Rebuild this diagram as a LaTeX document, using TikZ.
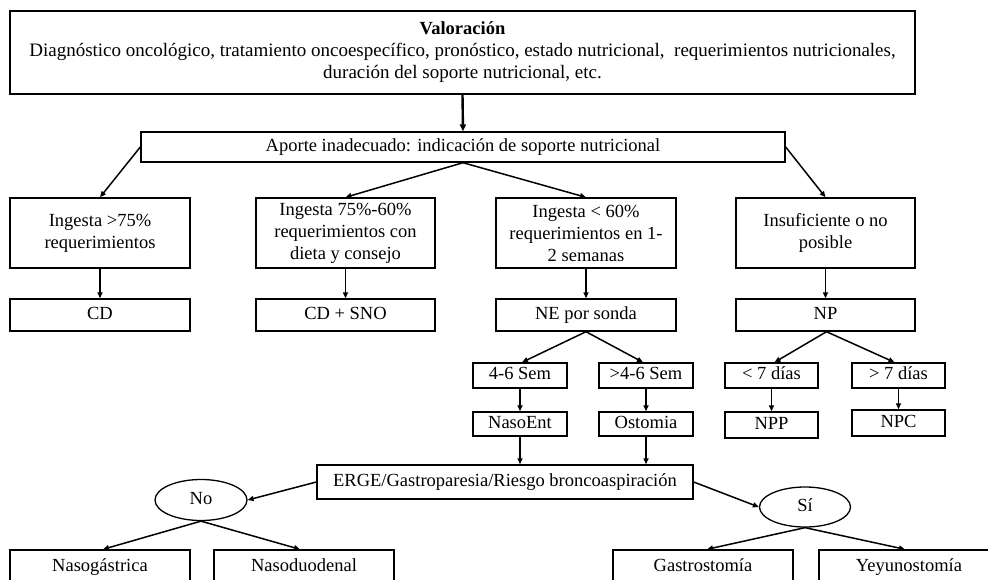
\documentclass[tikz,border=0pt]{standalone}
\usepackage{fontspec}
\setmainfont{Liberation Serif}
\usetikzlibrary{arrows.meta,shapes.geometric}
\begin{document}
\begin{tikzpicture}[x=1pt,y=-1pt,
  bx/.style={draw,line width=1.4pt,inner sep=0pt,align=center,font=\fontsize{18.5}{22}\selectfont,anchor=center},
  one/.style={bx,text height=12.5pt,text depth=4pt},
  el/.style={draw,ellipse,line width=1.3pt,inner sep=0pt,font=\fontsize{18.5}{22}\selectfont,text height=12.5pt,text depth=4pt},
  arr/.style={line width=1.5pt,-{Triangle[length=6pt,width=5pt]}},
  tarr/.style={line width=2.4pt,-{Triangle[length=7pt,width=6pt]}}]
\useasboundingbox[fill=white] (0,0) rectangle (988,579);
% top
\node[bx,minimum width=905pt,minimum height=83pt] (top) at (462.5,52.5)
  {{\fontsize{18.5}{22}\selectfont\textbf{Valoración}}\\{\fontsize{19}{22}\selectfont Diagnóstico oncológico, tratamiento oncoespecífico, pronóstico, estado nutricional,\ \ requerimientos nutricionales,}\\{\fontsize{19}{22}\selectfont duración del soporte nutricional, etc.}};
\node[one,minimum width=644pt,minimum height=30pt] (apo) at (463,147) {Aporte inadecuado: indicación de soporte nutricional};
% level 2
\node[bx,minimum width=180pt,minimum height=70pt] (i1) at (100,233) {Ingesta >75\%\\requerimientos};
\node[bx,minimum width=179pt,minimum height=70pt] (i2) at (345.5,233) {Ingesta 75\%-60\%\\requerimientos con\\dieta y consejo};
\node[bx,minimum width=180pt,minimum height=70pt] (i3) at (586,233) {Ingesta < 60\%\\requerimientos en 1-\\2 semanas};
\node[bx,minimum width=179pt,minimum height=70pt] (i4) at (825.5,233) {Insuficiente o no\\posible};
% level 3
\node[one,minimum width=180pt,minimum height=32pt] (cd) at (100,315) {CD};
\node[one,minimum width=179pt,minimum height=32pt] (cds) at (345.5,315) {CD + SNO};
\node[one,minimum width=180pt,minimum height=32pt] (ne) at (586,315) {NE por sonda};
\node[one,minimum width=179pt,minimum height=32pt] (np) at (825.5,315) {NP};
% level 4
\node[one,minimum width=94pt,minimum height=25pt] (s1) at (520,375.5) {4-6 Sem};
\node[one,minimum width=94pt,minimum height=25pt] (s2) at (646,375.5) {>4-6 Sem};
\node[one,minimum width=93pt,minimum height=25pt] (d1) at (771.5,375.5) {< 7 días};
\node[one,minimum width=93pt,minimum height=25pt] (d2) at (898.5,375.5) {> 7 días};
% level 5
\node[one,minimum width=94pt,minimum height=24pt] (nasoent) at (520,424) {NasoEnt};
\node[one,minimum width=94pt,minimum height=24pt] (osto) at (646,424) {Ostomia};
\node[one,minimum width=93pt,minimum height=26pt] (npp) at (771.5,425) {NPP};
\node[one,minimum width=93pt,minimum height=26pt] (npc) at (898.5,423) {NPC};
% ERGE
\node[one,minimum width=376pt,minimum height=34pt] (erge) at (505,482) {ERGE/Gastroparesia/Riesgo broncoaspiración};
\node[el,minimum width=92pt,minimum height=41pt] (no) at (201,500) {No};
\node[el,minimum width=91pt,minimum height=40pt] (si) at (805,507) {Sí};
% bottom
\node[one,minimum width=180pt,minimum height=34pt] (ng) at (100,567) {Nasogástrica};
\node[one,minimum width=180pt,minimum height=34pt] (nd) at (304,567) {Nasoduodenal};
\node[one,minimum width=180pt,minimum height=34pt] (ga) at (703,567) {Gastrostomía};
\node[one,minimum width=180pt,minimum height=34pt] (ye) at (909,567) {Yeyunostomía};
% arrows
\draw[tarr] (top.south) -- (apo.north);
\draw[arr] (apo.west) -- (i1.north);
\draw[arr] (apo.south) -- (i2.north);
\draw[arr] (apo.south) -- (i3.north);
\draw[arr] (apo.east) -- (i4.north);
\draw[arr] (i1) -- (cd);
\draw[arr] (i2) -- (cds);
\draw[arr] (i3) -- (ne);
\draw[arr] (i4) -- (np);
\draw[arr] (ne.south) -- ([xshift=2pt]s1.north);
\draw[arr] (ne.south) -- ([xshift=-3pt]s2.north);
\draw[arr] ([xshift=1pt]np.south) -- ([xshift=3pt]d1.north);
\draw[arr] ([xshift=1pt]np.south) -- ([xshift=-4pt]d2.north);
\draw[arr] (s1) -- (nasoent);
\draw[arr] (s2) -- (osto);
\draw[arr] (d1) -- (npp);
\draw[arr] (d2) -- (npc);
\draw[arr] (nasoent.south) -- (nasoent.south |- erge.north);
\draw[arr] (osto.south) -- (osto.south |- erge.north);
\draw[arr] (erge.west) -- (no.east);
\draw[arr] (erge.east) -- (si.west);
\draw[arr] (no.south) -- ([xshift=3pt]ng.north);
\draw[arr] (no.south) -- ([xshift=-4pt]nd.north);
\draw[arr] (si.south) -- ([xshift=4pt]ga.north);
\draw[arr] (si.south) -- ([xshift=-4pt]ye.north);
\end{tikzpicture}
\end{document}
